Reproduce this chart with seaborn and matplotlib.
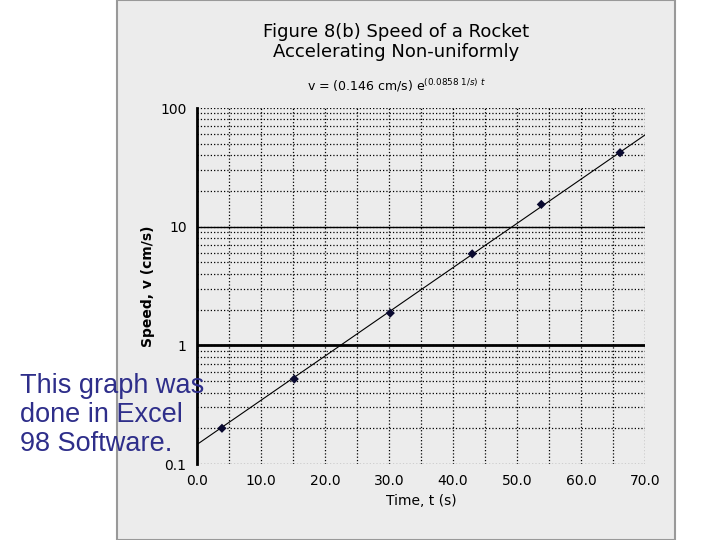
import numpy as np
import matplotlib
matplotlib.use('Agg')
import matplotlib.pyplot as plt
import seaborn as sns
from matplotlib.patches import Rectangle
from matplotlib.ticker import FixedLocator, LogLocator, NullFormatter

# data
time_s = [3.9, 15.2, 30.2, 43.0, 53.8, 66.1]
speed_cms = [0.20, 0.52, 1.87, 5.9, 15.4, 42.0]
fit_a = 0.146
fit_k = 0.0858

sns.set_style('white')
plt.rcParams['font.family'] = ['DejaVu Sans']
plt.rcParams['text.color'] = 'black'
plt.rcParams['axes.labelcolor'] = 'black'
plt.rcParams['xtick.color'] = 'black'
plt.rcParams['ytick.color'] = 'black'

fig = plt.figure(figsize=(7.2, 5.4), dpi=100)
fig.patch.set_facecolor('white')
fig.patches.append(Rectangle((117 / 720, 0), 558 / 720, 1, transform=fig.transFigure,
                             facecolor='#ececec', edgecolor='#999999', lw=1.5, zorder=-5))
ax = fig.add_axes([197 / 720, 76 / 540, 448 / 720, 356 / 540])
ax.set_facecolor('#ececec')

tt = np.linspace(0, 70, 100)
ax.plot(tt, fit_a * np.exp(fit_k * tt), color='black', lw=0.8)
sns.scatterplot(x=time_s, y=speed_cms, ax=ax, marker='D', s=22, color='#0a0a30',
                edgecolor='none', zorder=5)

ax.set_yscale('log')
ax.set_xlim(0, 70)
ax.set_ylim(0.1, 100)
ax.set_xticks(np.arange(0, 71, 10))
ax.set_xticklabels([f'{v:.1f}' for v in np.arange(0, 71, 10)])
ax.xaxis.set_minor_locator(FixedLocator(np.arange(5, 70, 10)))
ax.set_yticks([0.1, 1, 10, 100])
ax.set_yticklabels(['0.1', '1', '10', '100'])
ax.yaxis.set_minor_locator(LogLocator(base=10, subs=np.arange(2, 10)))
ax.yaxis.set_minor_formatter(NullFormatter())
ax.grid(True, which='both', axis='both', color='black', ls=':', lw=0.9)
ax.axhline(1, color='black', lw=2)
ax.axhline(10, color='black', lw=1)
for s in ['top', 'right', 'bottom']:
    ax.spines[s].set_visible(False)
ax.spines['left'].set_linewidth(2)
ax.spines['left'].set_color('black')
ax.tick_params(axis='both', which='major', length=4, labelsize=10)
ax.tick_params(axis='both', which='minor', length=0)

ax.set_xlabel('Time, t (s)', fontsize=10)
ax.set_ylabel('Speed, v (cm/s)', fontsize=10, fontweight='bold')
fig.text(396 / 720, 1 - 42 / 540, 'Figure 8(b) Speed of a Rocket\nAccelerating Non-uniformly',
         ha='center', va='center', fontsize=13, linespacing=1.2)
fig.text(396 / 720, 1 - 86 / 540, r'v = (0.146 cm/s) e$^{(0.0858\ 1/s)\ t}$',
         ha='center', va='center', fontsize=9)

fig.text(20 / 720, 1 - 415 / 540, 'This graph was\ndone in Excel\n98 Software.',
         ha='left', va='center', fontsize=19.5, color='#2e2e8a', linespacing=1.15,
         family=['Liberation Sans'], zorder=10)

fig.savefig('out.png', dpi=100)
